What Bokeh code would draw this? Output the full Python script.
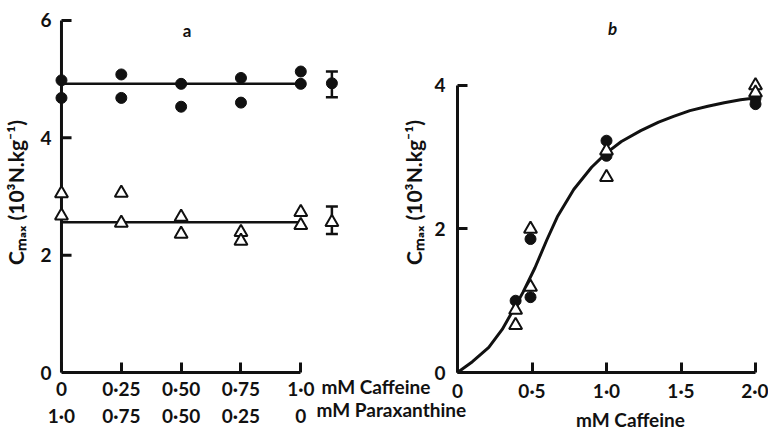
import math
from bokeh.plotting import figure
from bokeh.models import FixedTicker, Range1d, Label, Whisker, TeeHead, ColumnDataSource
from bokeh.layouts import row, column
from bokeh.embed import file_html
from bokeh.resources import INLINE

# ---------------- data: panel a ----------------
caffeine_a = [0.0, 0.0, 0.25, 0.25, 0.5, 0.5, 0.75, 0.75, 1.0, 1.0]
cmax_circle_a = [4.98, 4.68, 5.08, 4.68, 4.92, 4.53, 5.02, 4.60, 5.13, 4.92]
cmax_triangle_a = [3.05, 2.67, 3.06, 2.55, 2.65, 2.36, 2.39, 2.24, 2.73, 2.51]
fit_x_a = [0.0, 1.0]
fit_circle_a = [4.92, 4.92]
fit_triangle_a = [2.56, 2.56]
mean_x_a = [1.13, 1.13]
mean_a = [4.93, 2.56]
mean_lo_a = [4.69, 2.36]
mean_hi_a = [5.13, 2.83]
x_ticks_a = [0.0, 0.25, 0.5, 0.75, 1.0]
caffeine_labels_a = ["0", "0·25", "0·50", "0·75", "1·0"]
paraxanthine_labels_a = ["1·0", "0·75", "0·50", "0·25", "0"]
y_ticks_a = [0, 2, 4, 6]

# ---------------- data: panel b ----------------
caffeine_circle_b = [0.39, 0.49, 0.49, 1.0, 1.0, 2.0, 2.0]
cmax_circle_b = [1.0, 1.86, 1.05, 3.23, 3.02, 3.82, 3.74]
caffeine_triangle_b = [0.39, 0.39, 0.49, 0.49, 1.0, 1.0, 2.0, 2.0]
cmax_triangle_b = [0.87, 0.66, 2.0, 1.19, 3.09, 2.72, 4.0, 3.9]
fit_x_b = [0.0, 0.1, 0.21, 0.3, 0.36, 0.44, 0.52, 0.6, 0.67, 0.78, 0.9, 1.0,
           1.1, 1.23, 1.35, 1.45, 1.56, 1.68, 1.79, 1.9, 2.01]
fit_y_b = [0.0, 0.15, 0.35, 0.6, 0.82, 1.12, 1.46, 1.85, 2.17, 2.55, 2.86, 3.06,
           3.22, 3.37, 3.49, 3.57, 3.65, 3.71, 3.76, 3.80, 3.83]
x_ticks_b = [0.0, 0.5, 1.0, 1.5, 2.0]
x_labels_b = ["0", "0·5", "1·0", "1·5", "2·0"]
y_ticks_b = [0, 2, 4]

FONT = "Lato"
INK = "#111111"
YTITLE = "Cₘₐₓ (10³N.kg⁻¹)"
TICK_A = 0.042  # inward tick length of panel a's y axis (x units)
H = 430


def style_axis(ax, standoff, size="19px"):
    ax.axis_line_width = 3
    ax.axis_line_color = INK
    ax.major_tick_line_width = 3
    ax.major_tick_line_color = INK
    ax.major_tick_in = 10
    ax.major_tick_out = 0
    ax.minor_tick_line_color = None
    ax.major_label_text_font = FONT
    ax.major_label_text_font_style = "bold"
    ax.major_label_text_font_size = size
    ax.major_label_text_color = INK
    ax.major_label_standoff = standoff


def style_title(ax, standoff):
    ax.axis_label = YTITLE
    ax.axis_label_text_font = FONT
    ax.axis_label_text_font_style = "bold"
    ax.axis_label_text_font_size = "21px"
    ax.axis_label_text_color = INK
    ax.axis_label_standoff = standoff


def lab(p, x, y, text, size="19px", style="bold", align="left"):
    p.add_layout(Label(x=x, y=y, text=text, text_font=FONT, text_font_style=style,
                       text_font_size=size, text_color=INK, text_align=align,
                       text_baseline="middle"))


# ---------------- panel a ----------------
pa = figure(width=395, height=H, x_range=Range1d(-0.0417, 1.3958), y_range=Range1d(0, 6.136),
            output_backend="svg", toolbar_location=None,
            min_border_left=50, min_border_right=0, min_border_top=12, min_border_bottom=H - 372)
pa.grid.visible = False
pa.outline_line_color = None

# y axis: labels + title from the axis; its line and ticks are drawn at x = 0 below
pa.yaxis.ticker = FixedTicker(ticks=y_ticks_a)
style_axis(pa.yaxis[0], 0)
pa.yaxis.axis_line_color = None
pa.yaxis.major_tick_line_color = None
style_title(pa.yaxis[0], 9)

pa.segment(x0=[0], y0=[y_ticks_a[0]], x1=[0], y1=[y_ticks_a[-1]], line_width=3, line_color=INK)
pa.segment(x0=[0] * len(y_ticks_a), y0=y_ticks_a, x1=[TICK_A] * len(y_ticks_a), y1=y_ticks_a,
           line_width=3, line_color=INK)

pa.xaxis.bounds = (0, 1.0)
pa.xaxis.ticker = FixedTicker(ticks=x_ticks_a)
pa.xaxis.major_label_overrides = {t: c + "\n" + px for t, c, px in
                                  zip(x_ticks_a, caffeine_labels_a, paraxanthine_labels_a)}
style_axis(pa.xaxis[0], 4)
pa.xaxis.major_label_text_line_height = 1.2

pa.line(fit_x_a, fit_circle_a, line_width=2.5, line_color=INK)
pa.line(fit_x_a, fit_triangle_a, line_width=2.5, line_color=INK)
pa.scatter(caffeine_a, cmax_circle_a, marker="circle", size=11, fill_color=INK, line_color=INK)
pa.scatter(caffeine_a, cmax_triangle_a, marker="triangle", size=13, fill_color="white",
           line_color=INK, line_width=2)

wsrc = ColumnDataSource(dict(x=mean_x_a, lo=mean_lo_a, hi=mean_hi_a))
pa.add_layout(Whisker(source=wsrc, base="x", lower="lo", upper="hi", dimension="height",
                      line_width=2.5, line_color=INK,
                      upper_head=TeeHead(size=12, line_width=2.5, line_color=INK),
                      lower_head=TeeHead(size=12, line_width=2.5, line_color=INK)))
pa.scatter(mean_x_a[:1], mean_a[:1], marker="circle", size=11, fill_color=INK, line_color=INK)
pa.scatter(mean_x_a[1:], mean_a[1:], marker="triangle", size=13, fill_color="white",
           line_color=INK, line_width=2)

lab(pa, 0.525, 5.83, "a", size="17px", align="center")

# ---------------- panel b ----------------
pb = figure(width=373, height=H, x_range=Range1d(0, 2.0604), y_range=Range1d(0, 5.017),
            output_backend="svg", toolbar_location=None,
            min_border_left=62, min_border_right=4, min_border_top=12, min_border_bottom=H - 372)
pb.grid.visible = False
pb.outline_line_color = None
pb.background_fill_color = None
pb.border_fill_color = None

pb.yaxis.bounds = (0, 4)
pb.yaxis.ticker = FixedTicker(ticks=y_ticks_b)
style_axis(pb.yaxis[0], 12)
style_title(pb.yaxis[0], 5)

pb.xaxis.bounds = (0, 2.0)
pb.xaxis.ticker = FixedTicker(ticks=x_ticks_b)
pb.xaxis.major_label_overrides = dict(zip(x_ticks_b, x_labels_b))
style_axis(pb.xaxis[0], 6)

pb.line(fit_x_b, fit_y_b, line_width=3, line_color=INK)
pb.scatter(caffeine_circle_b, cmax_circle_b, marker="circle", size=11, fill_color=INK, line_color=INK)
pb.scatter(caffeine_triangle_b, cmax_triangle_b, marker="triangle", size=13, fill_color="white",
           line_color=INK, line_width=2)

lab(pb, 1.04, 4.79, "b", size="17px", style="bold italic", align="center")

# ---------------- transparent overlay for the unit captions (page pixel coordinates) ----------------
W = 768
pc = figure(width=W, height=H, x_range=Range1d(0, W), y_range=Range1d(H, 0),
            x_axis_location=None, y_axis_location=None,
            output_backend="svg", toolbar_location=None, min_border=0, margin=(-H, 0, 0, 0))
pc.grid.visible = False
pc.outline_line_color = None
pc.background_fill_color = None
pc.border_fill_color = None
lab(pc, 321, 386, "mM Caffeine")
lab(pc, 316, 409, "mM Paraxanthine")
lab(pc, 630, 419, "mM Caffeine", align="center")

layout = column(row(pa, pb), pc)
open("out.html", "w").write(file_html(layout, INLINE))
